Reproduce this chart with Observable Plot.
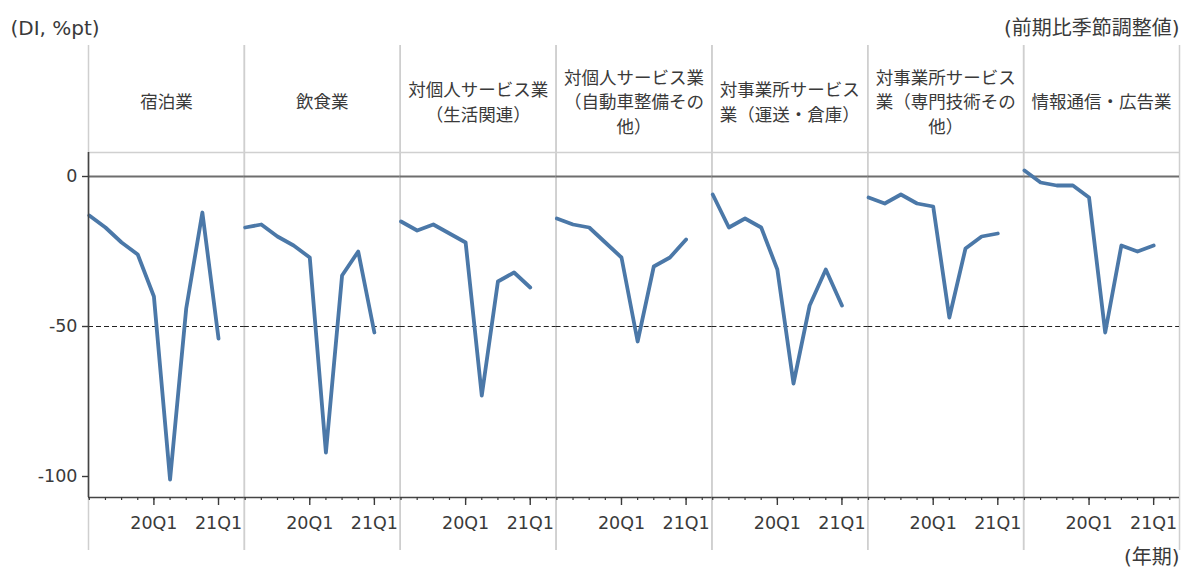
<!DOCTYPE html>
<html>
<head>
<meta charset="utf-8">
<script src="https://cdn.jsdelivr.net/npm/d3@7"></script>
<script src="https://cdn.jsdelivr.net/npm/@observablehq/plot@0.6"></script>
<style>
  html, body { margin: 0; padding: 0; background: #fff; }
</style>
</head>
<body>
<div id="chart"></div>
<script>
// Panels (industries) and their header labels
const industries = ["宿泊業", "飲食業", "対個人サービス業（生活関連）", "対個人サービス業（自動車整備その他）", "対事業所サービス業（運送・倉庫）", "対事業所サービス業（専門技術その他）", "情報通信・広告業"];
const headerLabels = ["宿泊業", "飲食業", "対個人サービス業\n（生活関連）", "対個人サービス業\n（自動車整備その\n他）", "対事業所サービス\n業（運送・倉庫）", "対事業所サービス\n業（専門技術その\n他）", "情報通信・広告業"];

// Quarters (x categories)
const quarters = ["19Q1", "19Q2", "19Q3", "19Q4", "20Q1", "20Q2", "20Q3", "20Q4", "21Q1"];
const labeledQuarters = ["20Q1", "21Q1"];

// Series values (DI, %pt)
const accommodation = [-13, -17, -22, -26, -40, -101, -44, -12, -54];
const food = [-17, -16, -20, -23, -27, -92, -33, -25, -52];
const personalLiving = [-15, -18, -16, -19, -22, -73, -35, -32, -37];
const personalAuto = [-14, -16, -17, -22, -27, -55, -30, -27, -21];
const transport = [-6, -17, -14, -17, -31, -69, -43, -31, -43];
const professional = [-7, -9, -6, -9, -10, -47, -24, -20, -19];
const infoAds = [2, -2, -3, -3, -7, -52, -23, -25, -23];

// Y ticks
const yTicks = [0, -50, -100];

const seriesList = [accommodation, food, personalLiving, personalAuto, transport, professional, infoAds];
const rows = industries.flatMap((ind, k) => seriesList[k].map((v, i) => ({industry: ind, q: i, v})));
const headers = industries.map((ind, k) => ({industry: ind, label: headerLabels[k]}));

const xDomain = [-0.05, 9.6];
const yDomain = [-107, 8];
const majorIdx = labeledQuarters.map(q => quarters.indexOf(q));
const allIdx = d3.range(10);

const TEXT = "#3a3a3a";
const cjk = "'Noto Sans CJK JP', sans-serif";

const chart = Plot.plot({
  width: 1183,
  height: 571,
  marginLeft: 88,
  marginRight: 4,
  marginTop: 152,
  marginBottom: 74,
  style: {fontFamily: "'DejaVu Sans', 'Noto Sans CJK JP', sans-serif", fontSize: "17.5px", color: TEXT, background: "#fff"},
  fx: {domain: industries, padding: 0, round: false, axis: null, label: null},
  x: {domain: xDomain, axis: null},
  y: {domain: yDomain, axis: null},
  marks: [
    // panel dividers
    Plot.ruleX(xDomain, {stroke: "#cfcfcf", strokeWidth: 1.5, insetTop: -107, insetBottom: -53}),
    // top frame line
    Plot.ruleY([yDomain[1]], {stroke: "#d0d0d0", strokeWidth: 1.5}),
    // zero line
    Plot.ruleY([0], {stroke: "#6e6e6e", strokeWidth: 2.2}),
    // -50 reference
    Plot.ruleY([-50], {stroke: "#222", strokeWidth: 1.2, strokeDasharray: "5,3"}),
    // data line
    Plot.line(rows, {fx: "industry", x: "q", y: "v", stroke: "#4b78a8", strokeWidth: 3.8, strokeLinejoin: "round", strokeLinecap: "round"}),
    // bottom axis line
    Plot.ruleY([yDomain[0]], {stroke: "#444", strokeWidth: 1.6}),
    // y axis line (first panel only)
    Plot.ruleX([xDomain[0]], {fx: [industries[0]], stroke: "#444", strokeWidth: 1.6}),
    Plot.axisY({ticks: yTicks, tickSize: 6, tickPadding: 5, tickFormat: d => String(d), label: null, strokeWidth: 1.4}),
    // x ticks
    Plot.axisX({ticks: allIdx, tickSize: 3, tickFormat: () => "", label: null, strokeWidth: 1.2}),
    Plot.axisX({ticks: majorIdx, tickSize: 8, tickPadding: 11, tickFormat: i => quarters[i], label: null, strokeWidth: 1.4}),
    // panel headers
    Plot.text(headers, {fx: "industry", text: "label", frameAnchor: "top", dy: -52, lineAnchor: "middle", lineHeight: 1.4, fontSize: 17.5, fontFamily: cjk, fill: TEXT}),
    // unit labels
    Plot.text(["(DI, %pt)"], {fx: [industries[0]], frameAnchor: "top-left", textAnchor: "start", lineAnchor: "middle", dx: -78, dy: -124, fontSize: 20, fill: TEXT}),
    Plot.text(["(前期比季節調整値)"], {fx: [industries[6]], frameAnchor: "top-right", textAnchor: "end", lineAnchor: "middle", dx: 0, dy: -124, fontSize: 20, fill: TEXT}),
    Plot.text(["(年期)"], {fx: [industries[6]], frameAnchor: "bottom-right", textAnchor: "end", lineAnchor: "middle", dx: 0, dy: 60, fontSize: 20, fill: TEXT})
  ]
});
document.getElementById("chart").appendChild(chart);
</script>
</body>
</html>
